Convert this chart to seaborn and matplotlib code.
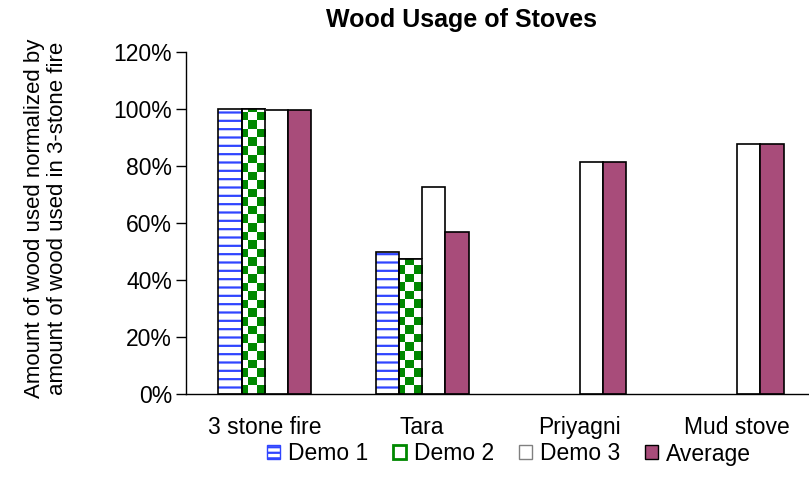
import numpy as np
import pandas as pd
import matplotlib
matplotlib.use("Agg")
import matplotlib.pyplot as plt
from matplotlib.patches import Patch, Rectangle
from matplotlib.ticker import FixedLocator, FuncFormatter
import seaborn as sns

# ---- data ----
stoves = ["3 stone fire", "Tara", "Priyagni", "Mud stove"]
series = ["Demo 1", "Demo 2", "Demo 3", "Average"]
demo1 = [100.0, 50.0, np.nan, np.nan]
demo2 = [100.0, 47.5, np.nan, np.nan]
demo3 = [99.8, 72.5, 81.5, 87.8]
average = [99.8, 56.7, 81.5, 87.8]
y_ticks = [0, 20, 40, 60, 80, 100, 120]

rows = []
for name, vals in zip(series, [demo1, demo2, demo3, average]):
    for s, v in zip(stoves, vals):
        rows.append({"stove": s, "series": name, "value": v})
df = pd.DataFrame(rows)

sns.set_style("white")
plt.rcParams["font.family"] = ["Liberation Sans", "DejaVu Sans"]
plt.rcParams["hatch.linewidth"] = 1.6
for k in ["text.color", "axes.labelcolor", "xtick.color", "ytick.color"]:
    plt.rcParams[k] = "black"

BLUE = "#3045FF"
GREEN = "#008800"
PLUM = "#A84C7A"

fig = plt.figure(figsize=(8.09, 4.84), dpi=100)
ax = fig.add_axes([186 / 809, 1 - 394 / 484, (816 - 186) / 809, (394 - 52) / 484])

sns.barplot(data=df, x="stove", y="value", hue="series", order=stoves,
            hue_order=series, errorbar=None, width=0.59, ax=ax,
            palette=["white", "white", "white", PLUM], legend=False,
            edgecolor="black", linewidth=1.2, saturation=1)

# checkerboard texture
ncx, ncy = 72, 40
checker = (np.add.outer(np.arange(ncy), np.arange(ncx)) % 2).astype(float)
rgb = np.ones((ncy, ncx, 3))
g = np.array(matplotlib.colors.to_rgb(GREEN))
rgb[checker == 1] = g

for level, cont in zip(series, ax.containers):
    for p in cont.patches:
        if level == "Demo 1":
            p.set_facecolor("white")
            p.set_edgecolor(BLUE)
            p.set_hatch("--")
            p.set_linewidth(0)
            ax.add_patch(Rectangle((p.get_x(), p.get_y()), p.get_width(), p.get_height(),
                                   fill=False, edgecolor="black", linewidth=1.2, zorder=p.get_zorder() + 0.2))
        elif level == "Demo 2":
            p.set_facecolor("white")
            im = ax.imshow(rgb, extent=(0, 1, 0, 1), transform=ax.transAxes,
                           interpolation="nearest", aspect="auto",
                           zorder=p.get_zorder() + 0.1)
            im.set_clip_path(p)
            ax.add_patch(Rectangle((p.get_x(), p.get_y()), p.get_width(), p.get_height(),
                                   fill=False, edgecolor="black", linewidth=1.2, zorder=p.get_zorder() + 0.2))
        elif level == "Demo 3":
            p.set_facecolor("white")

ax.set_xlim(-0.5, len(stoves) - 0.5)
ax.set_ylim(0, 120)
ax.set_yticks(y_ticks)
ax.yaxis.set_major_formatter(FuncFormatter(lambda v, _: f"{int(v)}%"))
ax.xaxis.set_minor_locator(FixedLocator(np.arange(-0.5, len(stoves), 1.0)))
ax.tick_params(axis="x", which="major", length=0, pad=16, labelsize=16.5)
ax.tick_params(axis="x", which="minor", length=8, width=1, color="black", direction="out")
ax.tick_params(axis="y", length=7, width=1, color="black", direction="out", pad=3, labelsize=16.5, left=True)
ax.set_xlabel("")
ax.set_ylabel("")
for s in ["top", "right"]:
    ax.spines[s].set_visible(False)
for s in ["left", "bottom"]:
    ax.spines[s].set_color("black")
    ax.spines[s].set_linewidth(1)

fig.text(461 / 809, 1 - 20 / 484, "Wood Usage of Stoves", ha="center", va="center",
         fontsize=18, fontweight="bold")
fig.text(46 / 809, 1 - 218 / 484,
         "Amount of wood used normalized by\namount of wood used in 3-stone fire",
         rotation=90, ha="center", va="center", multialignment="center",
         fontsize=16, linespacing=1.1)

handles = [
    Patch(facecolor="white", edgecolor=BLUE, hatch="---", linewidth=1),
    Patch(facecolor="white", edgecolor=GREEN, linewidth=2),
    Patch(facecolor="white", edgecolor="gray", linewidth=1),
    Patch(facecolor=PLUM, edgecolor="black", linewidth=1),
]
fig.legend(handles, series, loc="center", bbox_to_anchor=(509 / 809, 1 - 454 / 484),
           ncol=4, frameon=False, fontsize=16.5, handlelength=0.55, handleheight=0.55,
           handletextpad=0.35, columnspacing=1.1)

fig.savefig("out.png", dpi=100)
